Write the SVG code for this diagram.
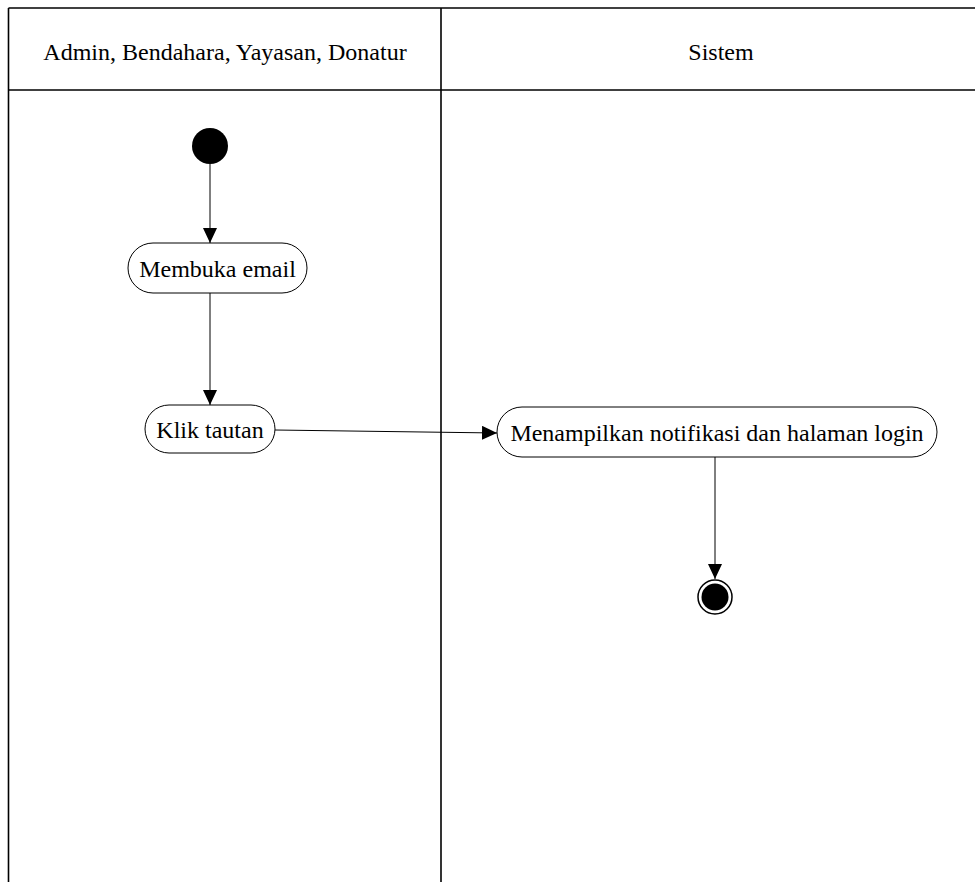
<svg xmlns="http://www.w3.org/2000/svg" width="975" height="882" viewBox="0 0 975 882">
<style>
.frame{stroke:#000;stroke-width:1.6;fill:none}
.node{fill:#fff;stroke:#000;stroke-width:1}
.lbl{font-family:"Liberation Serif","Times New Roman",serif;font-size:24px;fill:#000;text-anchor:middle}
.edge{stroke:#000;stroke-width:1;fill:none}
</style>
<defs>
<marker id="arr" viewBox="0 0 15 14" refX="15" refY="7" markerWidth="15" markerHeight="14" markerUnits="userSpaceOnUse" orient="auto">
<path d="M0,0 L15,7 L0,14 Z" fill="#000"/>
</marker>
</defs>
<rect width="975" height="882" fill="#fff"/>
<g id="swimlanes">
<line class="frame" x1="8.5" y1="8" x2="975" y2="8"/>
<line class="frame" x1="8.5" y1="90" x2="975" y2="90"/>
<line class="frame" x1="8.5" y1="8" x2="8.5" y2="882"/>
<line class="frame" x1="441" y1="8" x2="441" y2="882"/>
<text class="lbl" x="225" y="60">Admin, Bendahara, Yayasan, Donatur</text>
<text class="lbl" x="721" y="60">Sistem</text>
</g>
<g id="connectors">
<line class="edge" x1="210" y1="164" x2="210" y2="243" marker-end="url(#arr)"/>
<line class="edge" x1="210" y1="293" x2="210" y2="405" marker-end="url(#arr)"/>
<line class="edge" x1="275" y1="430" x2="497" y2="433" marker-end="url(#arr)"/>
<line class="edge" x1="715" y1="457" x2="715" y2="579" marker-end="url(#arr)"/>
</g>
<g id="start">
<circle cx="210" cy="146" r="18" fill="#000"/>
</g>
<g id="membuka-email">
<rect class="node" x="128" y="243" width="179" height="50" rx="25"/>
<text class="lbl" x="217.5" y="277">Membuka email</text>
</g>
<g id="klik-tautan">
<rect class="node" x="145" y="405" width="130" height="48" rx="24"/>
<text class="lbl" x="210" y="438">Klik tautan</text>
</g>
<g id="menampilkan">
<rect class="node" x="497" y="407" width="440" height="50" rx="25"/>
<text class="lbl" x="717" y="441">Menampilkan notifikasi dan halaman login</text>
</g>
<g id="end">
<circle cx="715" cy="597" r="17" fill="#fff" stroke="#000" stroke-width="1.5"/>
<circle cx="715" cy="597" r="13.5" fill="#000"/>
</g>
</svg>
